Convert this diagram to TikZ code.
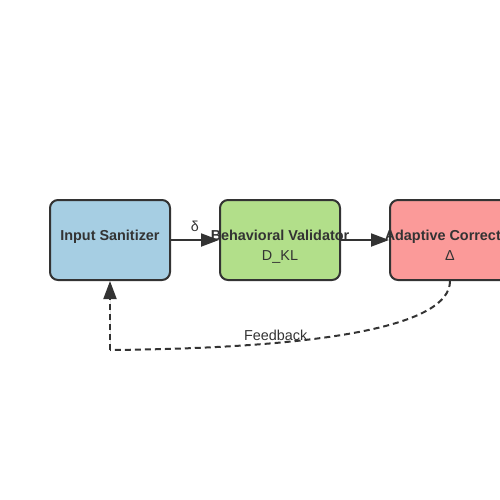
\documentclass[tikz,border=0pt]{standalone}
\usepackage{fontspec}
\setmainfont{Liberation Sans}
\usetikzlibrary{arrows.meta}
\definecolor{ink}{HTML}{333333}
\definecolor{sanblue}{HTML}{A6CEE3}
\definecolor{valgreen}{HTML}{B2DF8A}
\definecolor{corred}{HTML}{FB9A99}

\begin{document}
\begin{tikzpicture}[
    x=1pt, y=-1pt,
    box/.style={rectangle, draw=ink, line width=2pt, rounded corners=8pt, minimum width=120pt, minimum height=80pt, inner sep=0pt},
    title/.style={text=ink, anchor=base, font=\fontsize{14.4}{17}\selectfont\bfseries},
    sub/.style={text=ink, font=\fontsize{14.4}{17}\selectfont},
    arrow/.style={-{Triangle[length=18pt, width=13pt]}, draw=ink, fill=ink, line width=2pt}
]
    \useasboundingbox (0,0) rectangle (500,500);
    % Nodes
    \node[box, fill=sanblue] (sanitizer) at (110,240) {};
    \node[box, fill=valgreen] (validator) at (280,240) {};
    \node[box, fill=corred] (corrector) at (450,240) {};
    \node[title] (sanitizerT) at (110,240) {Input Sanitizer};
    \node[title] (validatorT) at (280,240) {Behavioral Validator};
    \node[sub, anchor=base] (validatorS) at (280,260) {D\_KL};
    \node[title] (correctorT) at (450,240) {Adaptive Corrector};
    \node[sub, anchor=base] (correctorS) at (450,260) {Δ};
    \coordinate (corner) at (110,350);

    % Arrows
    \draw[arrow] (sanitizer.east) -- node[sub, above=4pt] {δ} (validator.west);
    \draw[arrow] (validator.east) -- (corrector.west);
    \draw[ink, line width=2pt, dash pattern=on 6pt off 4pt] (corrector.south) .. controls (450,325) and (330,348) .. node[sub, pos=0.71, above=-2pt] {Feedback} (corner);
    \draw[arrow, dash pattern=on 6pt off 4pt] (corner) -- (sanitizer.south);
\end{tikzpicture}
\end{document}
